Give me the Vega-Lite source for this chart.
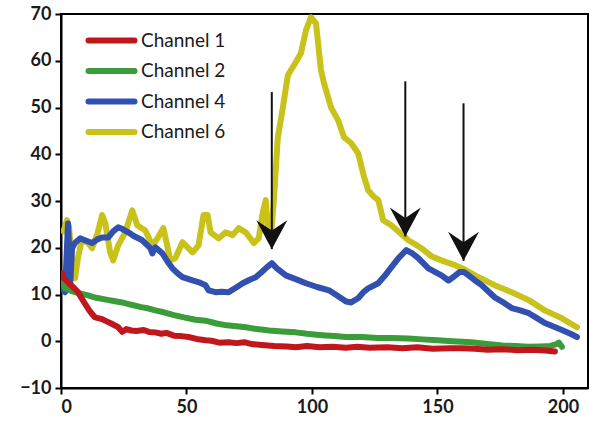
{
  "$schema": "https://vega.github.io/schema/vega-lite/v6.json",
  "width": 527,
  "height": 374,
  "autosize": {"type": "none"},
  "padding": {"left": 61, "top": 14, "right": 2, "bottom": 34},
  "background": "white",
  "config": {
    "view": {"stroke": "#000", "strokeWidth": 2},
    "axis": {
      "labelFont": "Lato", "labelFontWeight": "bold", "labelFontSize": 18, "labelColor": "#1a1a1a",
      "tickColor": "#000", "tickSize": 6, "tickWidth": 2, "domainColor": "#000", "domainWidth": 2,
      "grid": false, "title": null, "labelPadding": 4
    }
  },
  "datasets": {
    "arrows": [
      {"x": 84, "top": 53.3, "tip": 19.7},
      {"x": 137.2, "top": 55.6, "tip": 22.4},
      {"x": 160.4, "top": 50.9, "tip": 17.2}
    ]
  },
  "layer": [
    {
      "data": {"values": [
        {"s":"Channel 6","x":1,"y":23.5},{"s":"Channel 6","x":2.4,"y":25.9},{"s":"Channel 6","x":3.2,"y":24.5},{"s":"Channel 6","x":4.2,"y":18},{"s":"Channel 6","x":5.6,"y":13.5},{"s":"Channel 6","x":6.8,"y":18},{"s":"Channel 6","x":8,"y":21},{"s":"Channel 6","x":10,"y":21.5},{"s":"Channel 6","x":12.4,"y":19.9},{"s":"Channel 6","x":14.5,"y":23},{"s":"Channel 6","x":16.4,"y":27},{"s":"Channel 6","x":17.6,"y":25.4},{"s":"Channel 6","x":19.6,"y":19},{"s":"Channel 6","x":20.8,"y":17.3},{"s":"Channel 6","x":22.8,"y":20.5},{"s":"Channel 6","x":25.6,"y":23.3},{"s":"Channel 6","x":28.4,"y":28},{"s":"Channel 6","x":30.4,"y":24.8},{"s":"Channel 6","x":33.6,"y":23.7},{"s":"Channel 6","x":36.4,"y":20.5},{"s":"Channel 6","x":38.4,"y":22},{"s":"Channel 6","x":40.8,"y":24.2},{"s":"Channel 6","x":43.6,"y":17.3},{"s":"Channel 6","x":45.6,"y":17.8},{"s":"Channel 6","x":48.4,"y":21.2},{"s":"Channel 6","x":52.4,"y":19},{"s":"Channel 6","x":54.8,"y":20.5},{"s":"Channel 6","x":56.8,"y":27},{"s":"Channel 6","x":58.4,"y":27},{"s":"Channel 6","x":59.6,"y":23.3},{"s":"Channel 6","x":62.8,"y":22},{"s":"Channel 6","x":65.6,"y":23.3},{"s":"Channel 6","x":68.4,"y":22.7},{"s":"Channel 6","x":70.8,"y":24.2},{"s":"Channel 6","x":73.6,"y":23.3},{"s":"Channel 6","x":76.8,"y":21},{"s":"Channel 6","x":78.8,"y":22},{"s":"Channel 6","x":80.4,"y":27.6},{"s":"Channel 6","x":81.6,"y":30.2},{"s":"Channel 6","x":82.5,"y":22.5},{"s":"Channel 6","x":83.5,"y":21.5},{"s":"Channel 6","x":84.8,"y":30},{"s":"Channel 6","x":86.4,"y":43.6},{"s":"Channel 6","x":88.4,"y":50},{"s":"Channel 6","x":90.4,"y":56.9},{"s":"Channel 6","x":92.8,"y":59},{"s":"Channel 6","x":95.6,"y":61.6},{"s":"Channel 6","x":97.6,"y":66.5},{"s":"Channel 6","x":99.6,"y":69.3},{"s":"Channel 6","x":101.6,"y":68},{"s":"Channel 6","x":103.6,"y":58},{"s":"Channel 6","x":104.8,"y":55.2},{"s":"Channel 6","x":107.6,"y":50},{"s":"Channel 6","x":110.4,"y":47.3},{"s":"Channel 6","x":112.8,"y":43.6},{"s":"Channel 6","x":115.6,"y":42.4},{"s":"Channel 6","x":118.4,"y":40.2},{"s":"Channel 6","x":120.8,"y":35.1},{"s":"Channel 6","x":122.4,"y":32.3},{"s":"Channel 6","x":124.5,"y":31},{"s":"Channel 6","x":126.4,"y":30.2},{"s":"Channel 6","x":128.4,"y":25.9},{"s":"Channel 6","x":131.6,"y":24.8},{"s":"Channel 6","x":134.8,"y":23.3},{"s":"Channel 6","x":138.4,"y":21.6},{"s":"Channel 6","x":141,"y":20.8},{"s":"Channel 6","x":143.6,"y":19.9},{"s":"Channel 6","x":147.6,"y":18.2},{"s":"Channel 6","x":151.6,"y":17.3},{"s":"Channel 6","x":156.8,"y":16.3},{"s":"Channel 6","x":160.8,"y":15.4},{"s":"Channel 6","x":166,"y":13.8},{"s":"Channel 6","x":172.8,"y":12},{"s":"Channel 6","x":179.6,"y":10.5},{"s":"Channel 6","x":186.4,"y":8.8},{"s":"Channel 6","x":192.8,"y":6.6},{"s":"Channel 6","x":199.6,"y":4.9},{"s":"Channel 6","x":205.6,"y":3},
        {"s":"Channel 4","x":0.8,"y":11},{"s":"Channel 4","x":1.6,"y":10.5},{"s":"Channel 4","x":2.2,"y":18},{"s":"Channel 4","x":2.8,"y":25.2},{"s":"Channel 4","x":3.2,"y":20},{"s":"Channel 4","x":3.6,"y":11.5},{"s":"Channel 4","x":4.4,"y":19.9},{"s":"Channel 4","x":5.5,"y":21},{"s":"Channel 4","x":7.6,"y":22},{"s":"Channel 4","x":10,"y":21.5},{"s":"Channel 4","x":12.4,"y":21},{"s":"Channel 4","x":14.5,"y":21.8},{"s":"Channel 4","x":16.4,"y":22.2},{"s":"Channel 4","x":18.8,"y":22.2},{"s":"Channel 4","x":20.8,"y":23.5},{"s":"Channel 4","x":22.8,"y":24.4},{"s":"Channel 4","x":24.5,"y":24},{"s":"Channel 4","x":26.8,"y":23.3},{"s":"Channel 4","x":29,"y":22.5},{"s":"Channel 4","x":32.4,"y":21.6},{"s":"Channel 4","x":35.6,"y":19.9},{"s":"Channel 4","x":36.4,"y":18.8},{"s":"Channel 4","x":37.6,"y":20.1},{"s":"Channel 4","x":40.4,"y":18.8},{"s":"Channel 4","x":42.5,"y":17},{"s":"Channel 4","x":44.4,"y":15.6},{"s":"Channel 4","x":46.5,"y":14.5},{"s":"Channel 4","x":48.4,"y":13.7},{"s":"Channel 4","x":52.4,"y":13},{"s":"Channel 4","x":55,"y":12.6},{"s":"Channel 4","x":57.6,"y":12},{"s":"Channel 4","x":58.8,"y":10.9},{"s":"Channel 4","x":61.6,"y":10.5},{"s":"Channel 4","x":64,"y":10.6},{"s":"Channel 4","x":66.8,"y":10.5},{"s":"Channel 4","x":69.5,"y":11.4},{"s":"Channel 4","x":72.4,"y":12.4},{"s":"Channel 4","x":75,"y":13.1},{"s":"Channel 4","x":77.6,"y":13.7},{"s":"Channel 4","x":80,"y":14.8},{"s":"Channel 4","x":82,"y":15.8},{"s":"Channel 4","x":84,"y":16.7},{"s":"Channel 4","x":86,"y":15.6},{"s":"Channel 4","x":89.6,"y":14.1},{"s":"Channel 4","x":93,"y":13.4},{"s":"Channel 4","x":97.6,"y":12.4},{"s":"Channel 4","x":102,"y":11.6},{"s":"Channel 4","x":106.8,"y":10.9},{"s":"Channel 4","x":110,"y":9.8},{"s":"Channel 4","x":113.6,"y":8.5},{"s":"Channel 4","x":115.6,"y":8.3},{"s":"Channel 4","x":118.4,"y":9.2},{"s":"Channel 4","x":120.5,"y":10.5},{"s":"Channel 4","x":122.4,"y":11.3},{"s":"Channel 4","x":126.4,"y":12.4},{"s":"Channel 4","x":129,"y":14},{"s":"Channel 4","x":131.6,"y":15.8},{"s":"Channel 4","x":134.5,"y":17.8},{"s":"Channel 4","x":137.6,"y":19.5},{"s":"Channel 4","x":140,"y":18.8},{"s":"Channel 4","x":142.4,"y":17.8},{"s":"Channel 4","x":146.4,"y":15.6},{"s":"Channel 4","x":151.6,"y":14.1},{"s":"Channel 4","x":154.4,"y":13},{"s":"Channel 4","x":156.5,"y":13.8},{"s":"Channel 4","x":158.8,"y":14.8},{"s":"Channel 4","x":160.5,"y":14.8},{"s":"Channel 4","x":162.4,"y":14.1},{"s":"Channel 4","x":165,"y":13},{"s":"Channel 4","x":167.6,"y":12},{"s":"Channel 4","x":170,"y":10.8},{"s":"Channel 4","x":172.8,"y":9.4},{"s":"Channel 4","x":176,"y":8.4},{"s":"Channel 4","x":179.6,"y":7.1},{"s":"Channel 4","x":183,"y":6.6},{"s":"Channel 4","x":186.4,"y":6},{"s":"Channel 4","x":189.5,"y":5},{"s":"Channel 4","x":192.8,"y":3.9},{"s":"Channel 4","x":196,"y":3.2},{"s":"Channel 4","x":199.6,"y":2.4},{"s":"Channel 4","x":203,"y":1.6},{"s":"Channel 4","x":205.6,"y":0.9},
        {"s":"Channel 2","x":0.5,"y":12.5},{"s":"Channel 2","x":1.6,"y":11.3},{"s":"Channel 2","x":4,"y":10.8},{"s":"Channel 2","x":7,"y":10.3},{"s":"Channel 2","x":10.8,"y":9.8},{"s":"Channel 2","x":14,"y":9.3},{"s":"Channel 2","x":18,"y":8.9},{"s":"Channel 2","x":21,"y":8.6},{"s":"Channel 2","x":24.4,"y":8.3},{"s":"Channel 2","x":28,"y":7.8},{"s":"Channel 2","x":32,"y":7.3},{"s":"Channel 2","x":35,"y":7},{"s":"Channel 2","x":37.6,"y":6.6},{"s":"Channel 2","x":41,"y":6.2},{"s":"Channel 2","x":45,"y":5.6},{"s":"Channel 2","x":49,"y":5.1},{"s":"Channel 2","x":53.6,"y":4.6},{"s":"Channel 2","x":57.6,"y":4.4},{"s":"Channel 2","x":62,"y":3.8},{"s":"Channel 2","x":66,"y":3.4},{"s":"Channel 2","x":70,"y":3.2},{"s":"Channel 2","x":73.6,"y":3},{"s":"Channel 2","x":78,"y":2.6},{"s":"Channel 2","x":83,"y":2.3},{"s":"Channel 2","x":88,"y":2.1},{"s":"Channel 2","x":93.6,"y":1.9},{"s":"Channel 2","x":98,"y":1.6},{"s":"Channel 2","x":104,"y":1.3},{"s":"Channel 2","x":109,"y":1.1},{"s":"Channel 2","x":113.6,"y":0.9},{"s":"Channel 2","x":120,"y":0.9},{"s":"Channel 2","x":126,"y":0.7},{"s":"Channel 2","x":132,"y":0.7},{"s":"Channel 2","x":138.4,"y":0.6},{"s":"Channel 2","x":144,"y":0.4},{"s":"Channel 2","x":150,"y":0.2},{"s":"Channel 2","x":156,"y":0},{"s":"Channel 2","x":163.6,"y":-0.2},{"s":"Channel 2","x":170,"y":-0.6},{"s":"Channel 2","x":176,"y":-0.9},{"s":"Channel 2","x":181,"y":-1},{"s":"Channel 2","x":186.4,"y":-1.2},{"s":"Channel 2","x":191,"y":-1.1},{"s":"Channel 2","x":195,"y":-1},{"s":"Channel 2","x":197.5,"y":-0.6},{"s":"Channel 2","x":198.4,"y":-0.3},{"s":"Channel 2","x":199.6,"y":-1.2},
        {"s":"Channel 1","x":0.5,"y":14.5},{"s":"Channel 1","x":1,"y":13.5},{"s":"Channel 1","x":2.8,"y":12.6},{"s":"Channel 1","x":5,"y":11.5},{"s":"Channel 1","x":6.8,"y":10.5},{"s":"Channel 1","x":9,"y":8.5},{"s":"Channel 1","x":11,"y":6.8},{"s":"Channel 1","x":12.4,"y":5.8},{"s":"Channel 1","x":13.6,"y":5.1},{"s":"Channel 1","x":16,"y":4.8},{"s":"Channel 1","x":18,"y":4.3},{"s":"Channel 1","x":20,"y":3.8},{"s":"Channel 1","x":22.8,"y":3},{"s":"Channel 1","x":24.4,"y":2},{"s":"Channel 1","x":26,"y":2.6},{"s":"Channel 1","x":28,"y":2.3},{"s":"Channel 1","x":30,"y":2.2},{"s":"Channel 1","x":33,"y":2.4},{"s":"Channel 1","x":35,"y":2},{"s":"Channel 1","x":37.6,"y":1.9},{"s":"Channel 1","x":40,"y":1.6},{"s":"Channel 1","x":42,"y":1.8},{"s":"Channel 1","x":45,"y":1.2},{"s":"Channel 1","x":48,"y":1.1},{"s":"Channel 1","x":50.8,"y":0.9},{"s":"Channel 1","x":54,"y":0.5},{"s":"Channel 1","x":57.6,"y":0.2},{"s":"Channel 1","x":60,"y":0.1},{"s":"Channel 1","x":63,"y":-0.3},{"s":"Channel 1","x":66.8,"y":-0.2},{"s":"Channel 1","x":70,"y":-0.4},{"s":"Channel 1","x":73,"y":-0.2},{"s":"Channel 1","x":76,"y":-0.6},{"s":"Channel 1","x":80,"y":-0.8},{"s":"Channel 1","x":85,"y":-1},{"s":"Channel 1","x":90,"y":-1.1},{"s":"Channel 1","x":93.6,"y":-1.3},{"s":"Channel 1","x":98,"y":-1},{"s":"Channel 1","x":103,"y":-1.3},{"s":"Channel 1","x":108,"y":-1.2},{"s":"Channel 1","x":113.6,"y":-1.4},{"s":"Channel 1","x":118,"y":-1.2},{"s":"Channel 1","x":123,"y":-1.4},{"s":"Channel 1","x":130,"y":-1.3},{"s":"Channel 1","x":136,"y":-1.5},{"s":"Channel 1","x":142,"y":-1.3},{"s":"Channel 1","x":148,"y":-1.6},{"s":"Channel 1","x":155,"y":-1.5},{"s":"Channel 1","x":160,"y":-1.5},{"s":"Channel 1","x":165,"y":-1.6},{"s":"Channel 1","x":170,"y":-1.8},{"s":"Channel 1","x":176,"y":-1.7},{"s":"Channel 1","x":182,"y":-1.9},{"s":"Channel 1","x":188,"y":-1.8},{"s":"Channel 1","x":193,"y":-2},{"s":"Channel 1","x":196.8,"y":-2.2}
      ]},
      "mark": {"type": "line", "strokeWidth": 6, "strokeCap": "round", "strokeJoin": "round", "clip": true},
      "encoding": {
        "x": {"field": "x", "type": "quantitative", "scale": {"domain": [0, 210], "nice": false}, "axis": {"values": [0, 50, 100, 150, 200]}},
        "y": {"field": "y", "type": "quantitative", "scale": {"domain": [-10, 70], "nice": false}, "axis": {"values": [-10, 0, 10, 20, 30, 40, 50, 60, 70]}},
        "color": {
          "field": "s", "type": "nominal",
          "scale": {"domain": ["Channel 1", "Channel 2", "Channel 4", "Channel 6"], "range": ["#c0171d", "#3b9c3a", "#3150b0", "#c8c21a"]},
          "legend": {
            "title": null, "orient": "none", "legendX": 38, "legendY": 14,
            "symbolType": "M-2.5,0 L2.5,0", "symbolSize": 339, "symbolStrokeWidth": 6,
            "labelFont": "Lato", "labelFontSize": 19, "labelColor": "#1a1a1a", "labelOffset": 17,
            "rowPadding": 5.5,
            "encode": {"symbols": {"update": {"strokeCap": {"value": "round"}}}}
          }
        },
        "order": {"field": "x", "type": "quantitative"}
      }
    },
    {
      "data": {"name": "arrows"},
      "mark": {"type": "rule", "color": "#111", "strokeWidth": 2},
      "encoding": {
        "x": {"field": "x", "type": "quantitative"},
        "y": {"field": "top", "type": "quantitative"},
        "y2": {"field": "tip"}
      }
    },
    {
      "data": {"name": "arrows"},
      "mark": {"type": "point", "shape": "M0,0 L-1,-1.87 L0,-1.2 L1,-1.87 Z", "size": 961, "filled": true, "color": "#111", "opacity": 1, "strokeWidth": 0},
      "encoding": {
        "x": {"field": "x", "type": "quantitative"},
        "y": {"field": "tip", "type": "quantitative"}
      }
    }
  ]
}
